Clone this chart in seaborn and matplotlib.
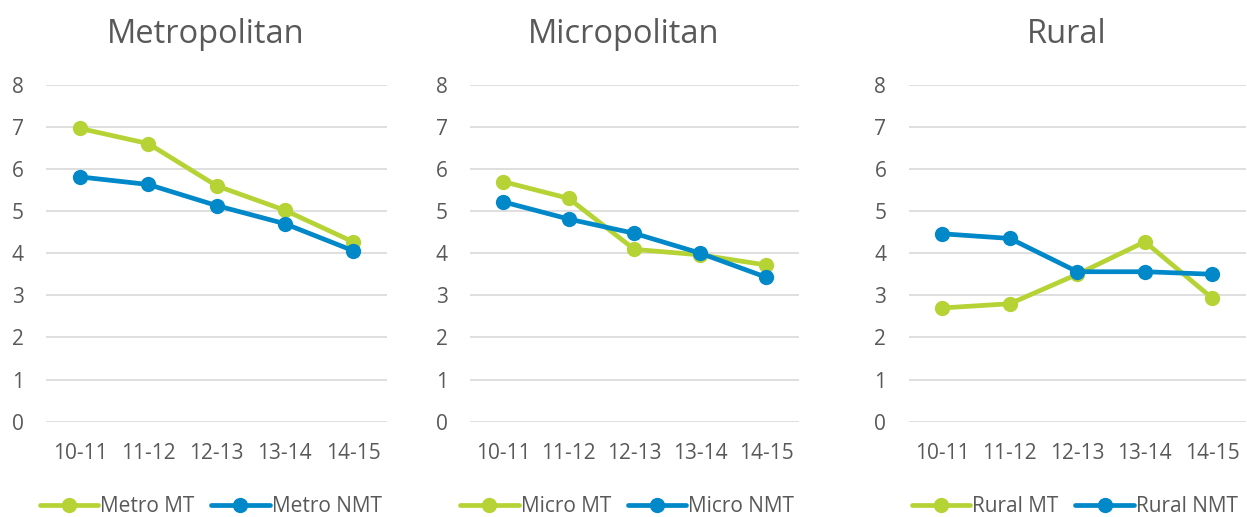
import matplotlib as mpl
mpl.use('Agg')
import matplotlib.pyplot as plt
import seaborn as sns
import pandas as pd

years = ['10-11', '11-12', '12-13', '13-14', '14-15']
panels = ['Metropolitan', 'Micropolitan', 'Rural']
prefixes = ['Metro', 'Micro', 'Rural']

metro_mt = [6.96, 6.60, 5.60, 5.02, 4.27]
metro_nmt = [5.81, 5.63, 5.13, 4.70, 4.06]
micro_mt = [5.70, 5.30, 4.09, 3.96, 3.72]
micro_nmt = [5.22, 4.81, 4.47, 4.00, 3.43]
rural_mt = [2.70, 2.80, 3.50, 4.27, 2.93]
rural_nmt = [4.46, 4.35, 3.56, 3.56, 3.50]

series = {
    'Metropolitan': (metro_mt, metro_nmt),
    'Micropolitan': (micro_mt, micro_nmt),
    'Rural': (rural_mt, rural_nmt),
}

green = '#B5D334'
blue = '#0088C8'
grey = '#595959'

sns.set_theme(style='white')
plt.rcParams['font.family'] = ['Open Sans', 'DejaVu Sans']

fig = plt.figure(figsize=(12.47, 5.17), dpi=100)
boxes = [(0.0369, 0.1843, 0.2735, 0.652),
         (0.3769, 0.1843, 0.2638, 0.652),
         (0.7286, 0.1843, 0.2707, 0.652)]
legend_x = [0.169, 0.503, 0.862]

for box, panel, pre, lx in zip(boxes, panels, prefixes, legend_x):
    ax = fig.add_axes(box)
    mt, nmt = series[panel]
    df = pd.DataFrame({
        'year': years * 2,
        'value': mt + nmt,
        'series': [pre + ' MT'] * 5 + [pre + ' NMT'] * 5,
    })
    df['x'] = df['year'].map({y: i for i, y in enumerate(years)})
    sns.lineplot(data=df, x='x', y='value', hue='series',
                 palette=[green, blue], marker='o', markersize=11,
                 markeredgewidth=0, linewidth=3.4, ax=ax, zorder=3)
    ax.set_xlim(-0.5, 4.5)
    ax.set_ylim(0, 8)
    ax.set_xticks(range(5))
    ax.set_xticklabels(years)
    ax.set_yticks(range(0, 9))
    ax.yaxis.grid(True, color='#D9D9D9', linewidth=1.2, zorder=0)
    ax.xaxis.grid(False)
    for s in ax.spines.values():
        s.set_visible(False)
    ax.tick_params(axis='both', length=0, labelsize=15, colors=grey)
    ax.tick_params(axis='y', pad=16)
    ax.tick_params(axis='x', pad=15)
    ax.set_xlabel('')
    ax.set_ylabel('')
    ax.set_title(panel, fontsize=23.5, color=grey, pad=30, x=0.468)
    handles, labels = ax.get_legend_handles_labels()
    ax.legend(handles, labels, loc='center', ncol=2, frameon=False,
              bbox_to_anchor=(lx, 0.02),
              bbox_transform=fig.transFigure, fontsize=15,
              handlelength=2.8, handletextpad=0.1, columnspacing=0.8,
              labelcolor=grey)

fig.savefig('out.png', dpi=100, facecolor='white')
